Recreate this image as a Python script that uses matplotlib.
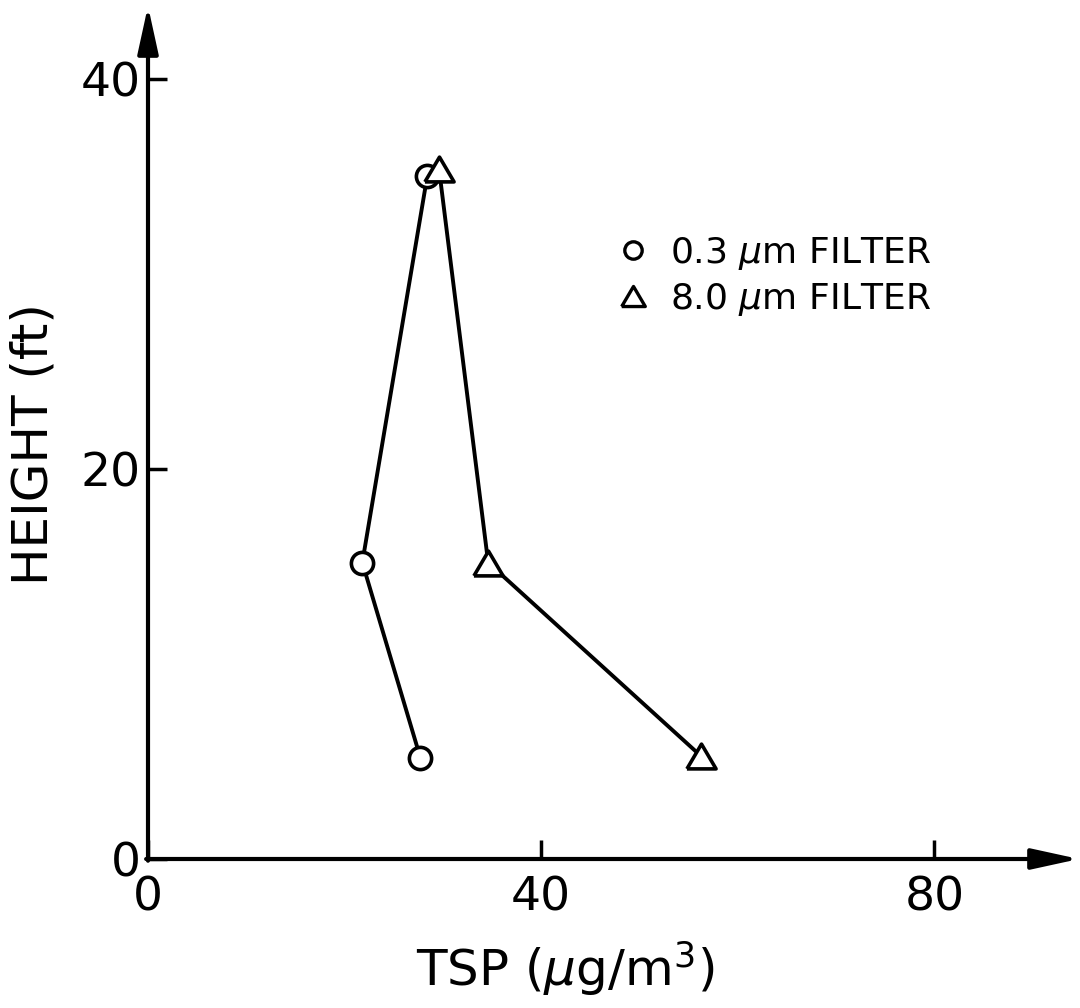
import matplotlib

matplotlib.use("Agg")
import matplotlib.pyplot as plt
from matplotlib.lines import Line2D

# values
height_03 = [5.2, 15.2, 35.0]
tsp_03 = [27.7, 21.8, 28.4]
height_80 = [5.3, 15.2, 35.4]
tsp_80 = [56.2, 34.6, 29.6]

x_ticks = [0, 40, 80]
y_ticks = [0, 20, 40]
labels = ["0.3 $\\mu$m FILTER", "8.0 $\\mu$m FILTER"]

plt.rcParams["font.family"] = ["DejaVu Sans"]
plt.rcParams["mathtext.fontset"] = "dejavusans"

# slightly flattened triangle, like the hand drawn one
tri = [(-1, -0.85), (1, -0.85), (0, 0.85), (-1, -0.85)]

fig = plt.figure(figsize=(10.8, 10.08), dpi=100)
ax = fig.add_axes([148 / 1080, (1008 - 859) / 1008, (1079 - 148) / 1080, (859 - 6) / 1008])

ax.plot(tsp_03, height_03, color="black", lw=2.8, marker="o", ms=16,
        mfc="white", mec="black", mew=2.6, zorder=3, clip_on=False)
ax.plot(tsp_80, height_80, color="black", lw=2.8, marker=tri, ms=21,
        mfc="white", mec="black", mew=2.6, zorder=4, clip_on=False)

ax.set_xlim(0, 94.7)
ax.set_ylim(0, 43.74)
ax.set_xticks(x_ticks)
ax.set_yticks(y_ticks)
ax.tick_params(direction="in", length=14, width=2.5, labelsize=34, colors="black")
ax.tick_params(axis="x", pad=12)
ax.tick_params(axis="y", pad=5)

for s in ax.spines.values():
    s.set_visible(False)

# axis lines with arrow heads
arrow = dict(arrowstyle="-|>,head_length=1.6,head_width=0.35", lw=3, color="black",
             mutation_scale=18, shrinkA=0, shrinkB=0)
ax.annotate("", xy=(1, 0), xytext=(-0.002, 0), xycoords="axes fraction", arrowprops=arrow)
ax.annotate("", xy=(0, 1), xytext=(0, -0.002), xycoords="axes fraction", arrowprops=arrow)

ax.set_xlabel("TSP ($\\mu$g/m$^3$)", fontsize=36)
ax.xaxis.set_label_coords(0.448, -0.094)
ax.set_ylabel("HEIGHT (ft)", fontsize=36)
ax.yaxis.set_label_coords(-0.097, 0.487)

handles = [
    Line2D([], [], ls="none", marker="o", ms=12.5, mfc="white", mec="black", mew=2.4),
    Line2D([], [], ls="none", marker=tri, ms=17, mfc="white", mec="black", mew=2.4),
]
fig.legend(handles, labels, loc="upper left", bbox_to_anchor=(615 / 1080, (1008 - 235) / 1008),
           frameon=False, fontsize=26, handlelength=1.0, handletextpad=0.53,
           labelspacing=0.25, borderpad=0, borderaxespad=0)

fig.savefig("out.png", dpi=100, facecolor="white")
plt.close()
